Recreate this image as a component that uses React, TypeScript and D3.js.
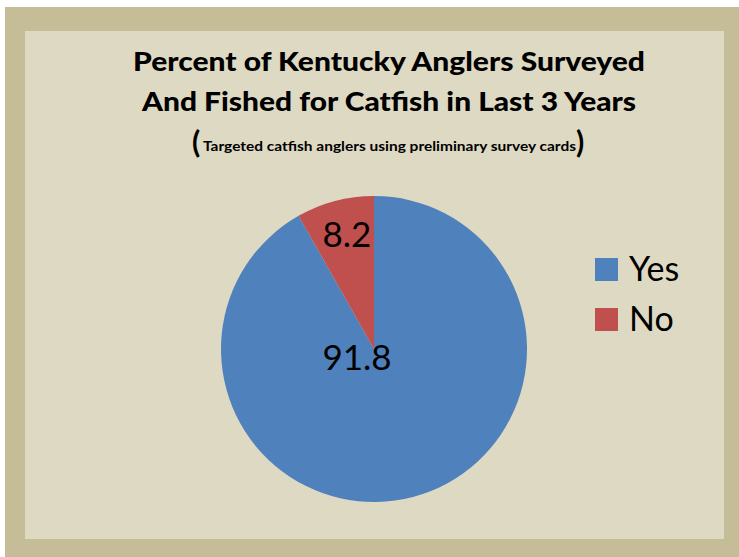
import React from "react";
import * as d3 from "d3";

const categories = ["Yes", "No"];
const values = [91.8, 8.2];
const colors = ["#4F81BD", "#C0504D"];
const titleLines = ["Percent of Kentucky Anglers Surveyed", "And Fished for Catfish in Last 3 Years"];
const subtitle = "Targeted catfish anglers using preliminary survey cards";

export default function App() {
  const W = 739, H = 557;
  const cx = 374, cy = 349, r = 153;
  const data = categories.map((c, i) => ({ c, v: values[i] }));
  const pie = d3.pie<any>().value((d) => d.v).sort(null);
  const arcs = pie(data);
  const arc = d3.arc<any>().innerRadius(0).outerRadius(r);
  const labelPos = [
    [357, 361],
    [347, 238],
  ];
  const titleWidths = [512, 494];
  const font = "Lato, 'Open Sans', sans-serif";
  return (
    <svg width={W} height={H} style={{ position: "absolute", left: 0, top: 0 }}>
      <rect x={5} y={7} width={734} height={550} fill="#C4BD97" />
      <rect x={25} y={31} width={699} height={508} fill="#DDD9C3" />
      {titleLines.map((t, i) => (
        <text key={i} x={389} y={71 + i * 40} textAnchor="middle" fontFamily={font} fontWeight="900" fontSize={27} fill="#000" textLength={titleWidths[i]} lengthAdjust="spacingAndGlyphs">
          {t}
        </text>
      ))}
      <text x={192} y={153} fontFamily={font} fontWeight="bold" fontSize={30} fill="#000">(</text>
      <text x={203} y={151} fontFamily={font} fontWeight="bold" fontSize={13.5} fill="#000" textLength={373} lengthAdjust="spacingAndGlyphs">{subtitle}</text>
      <text x={576} y={153} fontFamily={font} fontWeight="bold" fontSize={30} fill="#000">)</text>
      {arcs.map((a, i) => (
        <path key={i} d={arc(a) as string} transform={`translate(${cx},${cy})`} fill={colors[i]} />
      ))}
      {arcs.map((a, i) => (
        <text key={"l" + i} x={labelPos[i][0]} y={labelPos[i][1]} textAnchor="middle" dominantBaseline="middle" fontFamily={font} fontSize={35} fill="#000">
          {values[i].toFixed(1)}
        </text>
      ))}
      {categories.map((c, i) => (
        <g key={c}>
          <rect x={595} y={258 + i * 50} width={23} height={23} fill={colors[i]} />
          <text x={629} y={281 + i * 50} fontFamily={font} fontSize={34} fill="#000">{c}</text>
        </g>
      ))}
    </svg>
  );
}
